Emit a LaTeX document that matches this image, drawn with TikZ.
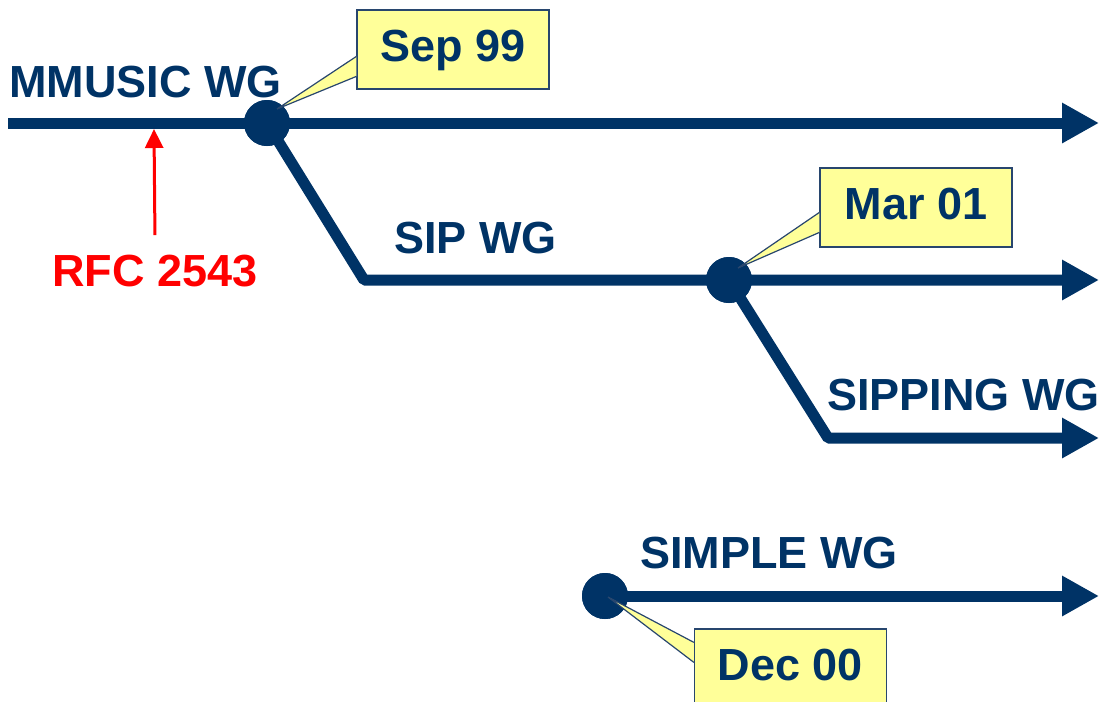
\documentclass[tikz,border=0pt]{standalone}
\usepackage{fontspec}
\setmainfont{Liberation Sans}
\usetikzlibrary{arrows.meta,calc,positioning}
\definecolor{navy}{RGB}{0,51,102}
\definecolor{noteyellow}{RGB}{255,255,153}
\definecolor{noteedge}{RGB}{40,70,110}

\begin{document}
\begin{tikzpicture}[x=0.5pt,y=-0.5pt,
  wg/.style={inner sep=0pt,anchor=base west,text=navy,font=\fontsize{22.5}{27}\selectfont\bfseries},
  dot/.style={circle,fill=navy,inner sep=0pt,minimum size=23pt},
  track/.style={draw=navy,line width=5.5pt,line join=bevel,-{Triangle[length=18.5pt,width=19pt]}},
  note/.style={draw=noteedge,line width=0.6pt,fill=noteyellow,inner sep=0pt,
    minimum width=96pt,minimum height=39.5pt,text=navy,
    font=\fontsize{22.5}{27}\selectfont\bfseries,text height=16.2pt,text depth=4.7pt},
  pointer/.style={draw=noteedge,line width=0.6pt,fill=noteyellow,line join=miter},
  rfcarrow/.style={draw=red,line width=1.5pt,-{Triangle[length=9.5pt,width=9pt]}}]
  \useasboundingbox (0,0) rectangle (1099,702);

  \coordinate (mstart) at (8,123);
  \coordinate (mend)   at (1099,123);
  \coordinate (bend1)  at (364,280);
  \coordinate (send)   at (1099,280);
  \coordinate (bend2)  at (828,438);
  \coordinate (pend)   at (1099,438);
  \coordinate (lend)   at (1099,596);

  \node[dot] (dot1) at (267,123) {};
  \node[dot] (dot2) at (729,280) {};
  \node[dot] (dot3) at (605,596) {};

  \draw[track] (mstart) -- (mend);
  \draw[track] (dot1.center) -- (bend1) -- (send);
  \draw[track] (dot2.center) -- (bend2) -- (pend);
  \draw[track] (dot3.center) -- (lend);

  \node[dot] at (dot1) {};
  \node[dot] at (dot2) {};
  \node[dot] at (dot3) {};

  \node[wg] (mmusic) at (9,97) {MMUSIC WG};
  \node[wg] (sip) at (394,253) {SIP WG};
  \node[wg] (sipping) at (827,410) {SIPPING WG};
  \node[wg] (simple) at (640,568) {SIMPLE WG};
  \node[wg,text=red] (rfc) at (52,286) {RFC 2543};
  \coordinate (rfctip) at (154,129);
  \draw[rfcarrow] ($(rfc.north)+(0,-19)$) -- (rfctip);

  \node[note] (sep) at (453,49.5) {Sep 99};
  \node[note] (mar) at (916,207.5) {Mar 01};
  \node[note] (dec) at (790.5,668.5) {Dec 00};

  \draw[pointer] ($(sep.north west)+(0,47)$) -- ($(dot1.center)+(10,-14)$) -- ($(sep.north west)+(0,67)$);
  \draw[pointer] ($(mar.north west)+(0,45)$) -- ($(dot2.center)+(9,-12)$) -- ($(mar.north west)+(0,65)$);
  \draw[pointer] ($(dec.north west)+(0,14)$) -- ($(dot3.center)+(3,1)$) -- ($(dec.north west)+(0,34)$);
\end{tikzpicture}
\end{document}
